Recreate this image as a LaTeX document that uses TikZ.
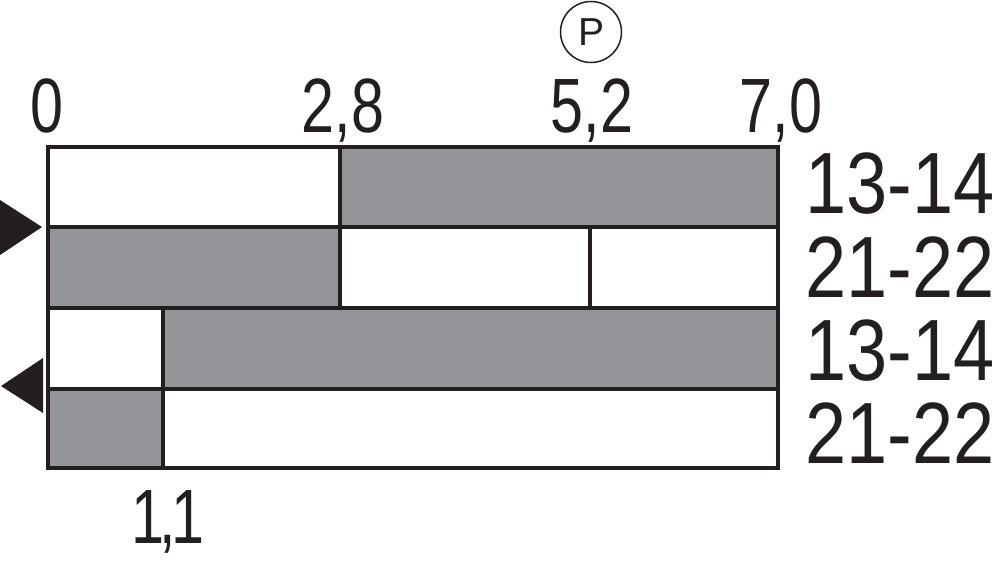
\documentclass[tikz,border=0pt]{standalone}
\usepackage{fontspec}
\newfontfamily\topfont[FakeStretch=0.77]{Liberation Sans}
\newfontfamily\rowfont[FakeStretch=0.85]{Liberation Sans}
\definecolor{cellgray}{HTML}{939598}
\definecolor{ink}{HTML}{231F20}
\tikzset{
  grid/.style={draw=ink, line width=3.6pt, line cap=rect},
  cell/.style={fill=cellgray},
  scalelbl/.style={anchor=base, inner sep=0pt, text=ink, font=\topfont\fontsize{77}{77}\selectfont},
  rowlbl/.style={anchor=base west, inner sep=0pt, text=ink, font=\rowfont\fontsize{87}{87}\selectfont},
  marker/.style={fill=ink},
}
\begin{document}
\begin{tikzpicture}[x=1pt,y=-1pt]
\useasboundingbox (0,0) rectangle (1000,562);
% gray cells
\fill[cell] (340,147) rectangle (778,227);
\fill[cell] (48,227) rectangle (340,308);
\fill[cell] (163,308) rectangle (778,389);
\fill[cell] (48,389) rectangle (163,468);
% grid
\draw[grid] (48,147) rectangle (778,468);
\draw[grid] (48,227) -- (778,227);
\draw[grid] (48,308) -- (778,308);
\draw[grid] (48,389) -- (778,389);
\draw[grid] (340,147) -- (340,308);
\draw[grid] (590,227) -- (590,308);
\draw[grid] (163,308) -- (163,468);
% scale labels
\node[scalelbl] (s0) at (47,132) {0};
\node[scalelbl] (s28) at (343,132) {2,8};
\node[scalelbl] (s52) at (592,132) {5,2};
\node[scalelbl] (s70) at (781,132) {7,0};
\node[scalelbl] (s11) at (168,543) {1\kern-5pt,\kern-4pt1};
% P symbol
\node[draw=ink, line width=1.5pt, circle, minimum size=61pt, inner sep=0pt, text=ink,
      font=\fontspec{Liberation Sans}\fontsize{39}{39}\selectfont] (p) at (591,32) {P};
% row labels
\node[rowlbl] (r1) at (805,213) {13-14};
\node[rowlbl] (r2) at (805,297) {21-22};
\node[rowlbl] (r3) at (805,380) {13-14};
\node[rowlbl] (r4) at (805,463) {21-22};
% direction markers
\fill[marker] (0,200) -- (42,227) -- (0,255) -- cycle;
\fill[marker] (43,358) -- (1,386) -- (43,413) -- cycle;
\end{tikzpicture}
\end{document}
